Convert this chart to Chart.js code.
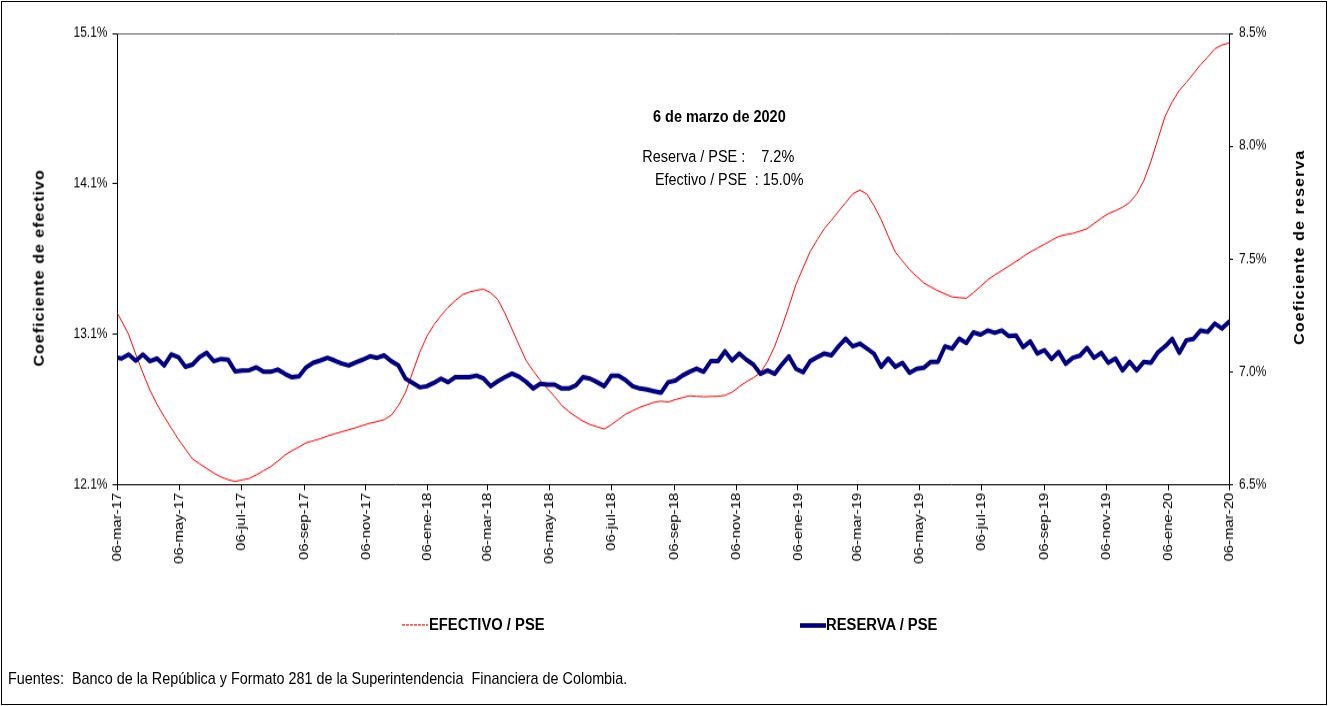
<!DOCTYPE html>
<html><head><meta charset="utf-8">
<script src="https://cdn.jsdelivr.net/npm/chart.js@4/dist/chart.umd.min.js"></script>
<style>
html,body{margin:0;padding:0;background:#fff;}
body{width:1328px;height:706px;position:relative;overflow:hidden;font-family:"Liberation Sans",Arial,sans-serif;}
#frame{position:absolute;left:1px;top:1px;width:1324px;height:702px;border:1px solid #000;}
#stage{position:absolute;left:0;top:0;width:1328px;height:614px;transform-origin:0 0;transform:scaleY(1.14984);}
#cwrap{position:absolute;left:0;top:0;width:1328px;height:614px;}
.t{position:absolute;white-space:pre;color:#000;line-height:1;left:0;top:0;}
.b{font-weight:bold;}
#lgRed{position:absolute;height:1px;background:repeating-linear-gradient(to right,#ff0000 0 3px,transparent 3px 4px);}
#lgBlue{position:absolute;height:4px;background:#000080;}
</style></head>
<body>
<div id="frame"></div>
<div id="stage">
  <div id="cwrap"><canvas id="c"></canvas></div>
  <div class="t b" id="ttlL" style="font-size:14px">Coeficiente de efectivo</div>
  <div class="t b" id="ttlR" style="font-size:14px">Coeficiente de reserva</div>
  <div class="t b" id="ann0" style="font-size:14px">6 de marzo de 2020</div>
  <div class="t" id="ann1" style="font-size:14px">Reserva / PSE :    7.2%</div>
  <div class="t" id="ann2" style="font-size:14px">Efectivo / PSE  : 15.0%</div>
  <div id="lgRed"></div>
  <div class="t b" id="lg1" style="font-size:14px">EFECTIVO / PSE</div>
  <div id="lgBlue"></div>
  <div class="t b" id="lg2" style="font-size:14px">RESERVA / PSE</div>
  <div class="t" id="src" style="font-size:13px">Fuentes:  Banco de la República y Formato 281 de la Superintendencia  Financiera de Colombia.</div>
</div>
<script>
// ---------- data ----------
const xTickLabels = ['06-mar-17','06-may-17','06-jul-17','06-sep-17','06-nov-17','06-ene-18','06-mar-18','06-may-18','06-jul-18','06-sep-18','06-nov-18','06-ene-19','06-mar-19','06-may-19','06-jul-19','06-sep-19','06-nov-19','06-ene-20','06-mar-20'];
const firstObservation = '03-mar-17'; // weekly observations (Fridays)
const leftTicks = [12.1, 13.1, 14.1, 15.1];
const rightTicks = [6.5, 7.0, 7.5, 8.0, 8.5];
const seriesNames = ['EFECTIVO / PSE', 'RESERVA / PSE'];

const efectivo = [13.274,13.189,13.098,12.967,12.843,12.728,12.633,12.552,12.476,12.401,
12.335,12.270,12.238,12.207,12.177,12.150,12.133,12.120,12.131,12.140,
12.165,12.192,12.219,12.255,12.296,12.325,12.350,12.378,12.391,12.405,
12.423,12.437,12.451,12.464,12.479,12.494,12.508,12.519,12.532,12.561,
12.625,12.713,12.846,12.979,13.085,13.162,13.224,13.279,13.323,13.362,
13.380,13.392,13.400,13.375,13.331,13.240,13.134,13.027,12.924,12.856,
12.792,12.738,12.685,12.627,12.586,12.552,12.522,12.499,12.484,12.470,
12.498,12.533,12.568,12.591,12.613,12.631,12.647,12.655,12.649,12.665,
12.678,12.690,12.687,12.684,12.686,12.687,12.693,12.714,12.750,12.784,
12.810,12.844,12.919,13.019,13.146,13.285,13.431,13.541,13.650,13.728,
13.802,13.859,13.917,13.975,14.033,14.059,14.031,13.954,13.863,13.752,
13.645,13.587,13.530,13.485,13.441,13.414,13.389,13.368,13.348,13.343,
13.339,13.376,13.418,13.461,13.494,13.523,13.553,13.584,13.616,13.647,
13.672,13.698,13.724,13.750,13.762,13.770,13.785,13.802,13.836,13.871,
13.902,13.921,13.944,13.976,14.033,14.121,14.249,14.400,14.549,14.645,
14.722,14.775,14.833,14.893,14.942,14.998,15.023,15.037];

const reserva = [7.065,7.059,7.077,7.049,7.077,7.047,7.059,7.028,7.077,7.065,
7.022,7.032,7.065,7.084,7.047,7.057,7.054,7.002,7.006,7.007,
7.020,7.000,7.000,7.010,6.991,6.976,6.980,7.020,7.040,7.050,
7.062,7.050,7.037,7.028,7.042,7.054,7.069,7.062,7.073,7.047,
7.028,6.970,6.951,6.931,6.936,6.951,6.970,6.954,6.976,6.976,
6.976,6.983,6.970,6.936,6.958,6.976,6.992,6.978,6.955,6.926,
6.947,6.943,6.943,6.926,6.926,6.940,6.976,6.970,6.954,6.936,
6.983,6.983,6.963,6.936,6.926,6.921,6.914,6.907,6.954,6.961,
6.983,7.000,7.014,7.000,7.047,7.047,7.091,7.050,7.081,7.054,
7.032,6.991,7.006,6.991,7.032,7.069,7.013,6.998,7.047,7.065,
7.081,7.073,7.113,7.147,7.113,7.125,7.103,7.080,7.022,7.059,
7.022,7.040,6.995,7.013,7.018,7.044,7.044,7.113,7.103,7.147,
7.128,7.175,7.165,7.183,7.173,7.183,7.158,7.161,7.109,7.135,
7.081,7.096,7.057,7.088,7.035,7.062,7.072,7.106,7.062,7.084,
7.040,7.059,7.006,7.044,7.006,7.044,7.040,7.087,7.113,7.146,
7.084,7.140,7.146,7.183,7.177,7.214,7.192,7.222];

// ---------- helpers ----------
const monthIdx = {ene:0,feb:1,mar:2,abr:3,may:4,jun:5,jul:6,ago:7,sep:8,oct:9,nov:10,dic:11};
function dayOf(lbl){ const p = lbl.split('-'); return (Date.UTC(2000 + (+p[2]), monthIdx[p[1]], +p[0]) - Date.UTC(2017,2,6)) / 86400000; }
const xTickDays = xTickLabels.map(dayOf);
const start = dayOf(firstObservation);
const FONT = '"Liberation Sans", Arial, sans-serif';
Chart.defaults.font.family = FONT;
Chart.defaults.color = '#000';

const plotFrame = {
  id: 'plotFrame',
  afterDraw(c){
    const {ctx, chartArea: a} = c;
    ctx.save();
    ctx.strokeStyle = '#606060'; ctx.lineWidth = 1;
    const y = Math.round(a.top) + 0.5;
    ctx.beginPath(); ctx.moveTo(a.left, y); ctx.lineTo(a.right, y); ctx.stroke();
    ctx.restore();
  }
};

new Chart(document.getElementById('c'), {
  type: 'line',
  data: { datasets: [
    { label: seriesNames[0], data: efectivo.map((v,i)=>({x: start + 7*i, y: v})), yAxisID: 'yL',
      borderColor: '#ff0000', borderWidth: 1, pointRadius: 0, tension: 0, order: 1 },
    { label: seriesNames[1], data: reserva.map((v,i)=>({x: start + 7*i, y: v})), yAxisID: 'yR',
      borderColor: '#000080', borderWidth: 4, pointRadius: 0, tension: 0, order: 0,
      borderJoinStyle: 'round', borderCapStyle: 'round' }
  ]},
  options: {
    responsive: true, maintainAspectRatio: false, animation: false, events: [],
    layout: { padding: { top: 29.1, left: 0, right: 0, bottom: 0 } },
    plugins: { legend: { display: false }, tooltip: { enabled: false } },
    scales: {
      x: { type: 'linear', min: xTickDays[0], max: xTickDays[xTickDays.length-1],
        afterBuildTicks: s => { s.ticks = xTickDays.map(v => ({value: v})); },
        afterFit: s => { s.height = 192.6; },
        ticks: { autoSkip: false, minRotation: 90, maxRotation: 90, padding: 2, color: '#000',
          font: { size: 13 }, callback: (v, i) => xTickLabels[i] },
        grid: { drawOnChartArea: false, drawTicks: true, tickLength: 5, color: '#000' },
        border: { display: true, color: '#000', width: 1 } },
      yL: { position: 'left', min: leftTicks[0], max: leftTicks[leftTicks.length-1],
        afterBuildTicks: s => { s.ticks = leftTicks.map(v => ({value: v})); },
        afterFit: s => { s.width = 117.5; },
        ticks: { padding: 5, color: '#000', font: { size: 12 }, callback: v => v.toFixed(1) + '%' },
        grid: { drawOnChartArea: false, drawTicks: true, tickLength: 5, color: '#000' },
        border: { display: true, color: '#000', width: 1 } },
      yR: { position: 'right', min: rightTicks[0], max: rightTicks[rightTicks.length-1],
        afterBuildTicks: s => { s.ticks = rightTicks.map(v => ({value: v})); },
        afterFit: s => { s.width = 99; },
        ticks: { padding: 6, color: '#000', font: { size: 12 }, callback: v => v.toFixed(1) + '%' },
        grid: { drawOnChartArea: false, drawTicks: true, tickLength: 4, color: '#000' },
        border: { display: true, color: '#000', width: 1 } }
    }
  },
  plugins: [plotFrame]
});

// ---------- text overlays (coordinates in unstretched space) ----------
const S = 1.14984;
function fitSize(el, target){ const w = el.offsetWidth; const fs = parseFloat(el.style.fontSize); el.style.fontSize = (fs*target/w) + 'px'; }
function fitSpacing(el, target){ const w = el.offsetWidth; const n = el.textContent.length; el.style.letterSpacing = ((target - w)/n) + 'px'; }
function place(el, x, yStretched, align){
  const w = el.offsetWidth, h = el.offsetHeight, y = yStretched / S;
  el.style.left = (align === 'center' ? x - w/2 : x) + 'px';
  el.style.top = (y - h/2) + 'px';
}
function placeRot(el, cx, cyStretched){
  const w = el.offsetWidth, h = el.offsetHeight, cy = cyStretched / S;
  el.style.left = (cx - w/2) + 'px'; el.style.top = (cy - h/2) + 'px';
  el.style.transform = 'rotate(-90deg)'; el.style.transformOrigin = '50% 50%';
}
const $ = id => document.getElementById(id);
fitSpacing($('ttlL'), 172); placeRot($('ttlL'), 38.5, 268);
fitSpacing($('ttlR'), 169.5); placeRot($('ttlR'), 1298.5, 247.5);
fitSize($('ann0'), 132.4); place($('ann0'), 719.5, 116.5, 'center');
fitSize($('ann1'), 152); place($('ann1'), 642.3, 156, 'left');
fitSize($('ann2'), 149); place($('ann2'), 655, 179.5, 'left');
fitSize($('lg1'), 116); place($('lg1'), 429, 625, 'left');
fitSize($('lg2'), 112); place($('lg2'), 826, 625, 'left');
fitSize($('src'), 620); place($('src'), 8, 678, 'left');
const r = $('lgRed'); r.style.left = '402px'; r.style.width = '26px'; r.style.top = (625/S - 0.5) + 'px';
const b = $('lgBlue'); b.style.left = '800px'; b.style.width = '26px'; b.style.top = (625/S - 2) + 'px';
</script>
</body></html>
